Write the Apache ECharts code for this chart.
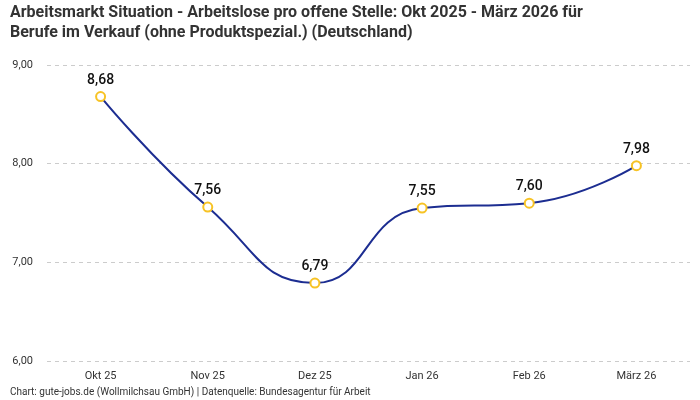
<!DOCTYPE html>
<html lang="de">
<head>
    <meta charset="UTF-8">
    <title>Arbeitsmarkt Situation</title>
    <script src="https://cdn.jsdelivr.net/npm/echarts@6/dist/echarts.min.js"></script>
    <style>
        html, body { margin: 0; padding: 0; background: #fff; }
        #chart { width: 700px; height: 400px; }
    </style>
</head>
<body>
    <div id="chart"></div>
    <script>
        // Monate und Werte (Arbeitslose pro offene Stelle)
        const months = ['Okt 25', 'Nov 25', 'Dez 25', 'Jan 26', 'Feb 26', 'März 26'];
        const ratio = [8.68, 7.56, 6.79, 7.55, 7.60, 7.98];
        const yTicks = [6, 7, 8, 9];

        const fmt = v => v.toFixed(2).replace('.', ',');
        const fontFam = 'Roboto, "Noto Sans", sans-serif';

        const chart = echarts.init(document.getElementById('chart'));
        chart.setOption({
            animation: false,
            title: [{
                text: 'Arbeitsmarkt Situation - Arbeitslose pro offene Stelle: Okt 2025 - März 2026 für\nBerufe im Verkauf (ohne Produktspezial.) (Deutschland)',
                left: 10,
                top: 3,
                padding: 0,
                textStyle: {
                    fontFamily: fontFam,
                    fontSize: 16,
                    fontWeight: 'bold',
                    color: '#333',
                    lineHeight: 20
                }
            }, {
                text: 'Chart: gute-jobs.de (Wollmilchsau GmbH) | Datenquelle: Bundesagentur für Arbeit',
                left: 10,
                top: 387,
                padding: 0,
                textStyle: {
                    fontFamily: fontFam,
                    fontSize: 10,
                    fontWeight: 'normal',
                    color: '#333'
                }
            }],
            grid: { left: 47, right: 10, top: 65, bottom: 39 },
            xAxis: {
                type: 'category',
                data: months,
                boundaryGap: true,
                axisLine: { show: false },
                axisTick: { show: false },
                axisLabel: { color: '#333', fontSize: 11, fontFamily: fontFam, margin: 10 }
            },
            yAxis: {
                type: 'value',
                min: yTicks[0],
                max: yTicks[yTicks.length - 1],
                interval: 1,
                axisLine: { show: false },
                axisTick: { show: false },
                axisLabel: {
                    color: '#333', fontSize: 11, fontFamily: fontFam, margin: 14,
                    formatter: v => fmt(v)
                },
                splitLine: { lineStyle: { color: '#ccc', type: [4, 4] } }
            },
            series: [{
                type: 'line',
                data: ratio,
                smooth: 0.5,
                lineStyle: { color: '#1c2d91', width: 2 },
                symbol: 'circle',
                symbolSize: 9,
                itemStyle: { color: '#fff', borderColor: '#f7c325', borderWidth: 2 },
                label: {
                    show: true,
                    position: 'top',
                    distance: 4,
                    fontFamily: fontFam,
                    fontSize: 14,
                    fontWeight: 500,
                    color: '#111',
                    formatter: p => fmt(p.value)
                }
            }]
        });
    </script>
</body>
</html>
